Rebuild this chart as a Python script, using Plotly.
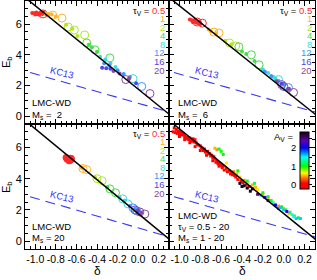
import plotly.graph_objects as go

W, H = 317, 280
ML, MR, MT, MB = 25, 2, 1, 31
PW, PH = W - ML - MR, H - MT - MB

def px(x):
    return (x - ML) / PW

def py(y):
    return (H - MB - y) / PH

XR = [-1.1, 0.3]
YR = [-0.5, 7.5]
x_tickvals = [-1.0, -0.8, -0.6, -0.4, -0.2, 0.0, 0.2]
x_ticktext = ["-1.0", "-0.8", "-0.6", "-0.4", "-0.2", "0.0", "0.2"]
y_tickvals = [0, 2, 4, 6]
y_ticktext = ["0", "2", "4", "6"]

tau_labels = ["0.5", "1", "2", "4", "8", "12", "16", "20"]
tau_colors = ["#FF2A2A", "#FFB428", "#B4E61E", "#46DC46", "#3CDCDC", "#3C96FF", "#5046E6", "#8C46A0"]

# fitted relation (black line) and KC13 relation: E_b = a + b * delta
fit_a, fit_b = 1.77, -5.42
kc13_a, kc13_b = 0.85, -1.9
line_delta = [-1.2, 0.4]

# ---- Ms = 2 ----
m2_dot_d = [[-1.03, -1.01, -0.99, -0.97, -0.95, -0.93, -0.91, -0.89, -1.0, -0.96, -0.92, -0.98],
            [-0.90, -0.87, -0.84, -0.80],
            [-0.70, -0.64, -0.59],
            [-0.48, -0.45, -0.40],
            [-0.37, -0.32, -0.27, -0.22],
            [-0.33, -0.28, -0.20, -0.14, -0.08],
            [-0.35, -0.31, -0.27, -0.02],
            [-0.24, -0.18, -0.09]]
m2_dot_e = [[6.72, 6.70, 6.76, 6.68, 6.72, 6.65, 6.70, 6.62, 6.62, 6.60, 6.75, 6.64],
            [6.68, 6.66, 6.62, 6.50],
            [5.95, 5.70, 5.23],
            [4.65, 4.50, 4.20],
            [3.87, 3.70, 3.45, 3.20],
            [3.45, 3.30, 3.00, 2.75, 2.55],
            [3.16, 3.12, 3.10, 2.15],
            [2.95, 2.78, 2.45]]
m2_circ_d = [[-0.925], [-0.83, -0.74], [-0.68, -0.62, -0.52], [-0.50, -0.42, -0.275],
             [-0.05], [0.035], [], [-0.12, 0.115]]
m2_circ_e = [[6.66], [6.58, 6.39], [5.81, 5.61, 5.29], [4.77, 4.32, 3.80],
             [2.45], [1.94], [], [2.39, 1.48]]

# ---- Ms = 6 ----
m6_dot_d = [[-0.90, -0.88, -0.86, -0.84, -0.82, -0.80, -0.85, -0.81, -0.87],
            [-0.72, -0.70, -0.65],
            [-0.56, -0.50],
            [-0.40, -0.36, -0.28],
            [-0.20, -0.15, -0.10, -0.08],
            [-0.18, -0.12, -0.05, 0.0],
            [-0.02, 0.05],
            [-0.07, 0.04]]
m6_dot_e = [[6.30, 6.25, 6.18, 6.10, 6.05, 6.00, 6.28, 6.15, 6.12],
            [5.65, 5.55, 5.40],
            [4.92, 4.68],
            [4.22, 4.05, 3.60],
            [3.05, 2.82, 2.55, 2.45],
            [2.90, 2.62, 2.30, 2.05],
            [2.12, 1.80],
            [2.28, 1.78]]
m6_circ_d = [[-0.83, -0.78], [-0.67, -0.62], [-0.52, -0.46], [-0.43, -0.31, -0.236],
             [-0.05], [0.046], [0.0], [-0.02, 0.094]]
m6_circ_e = [[6.13, 6.06], [5.48, 5.42], [4.77, 4.58], [4.52, 4.00, 3.35],
             [2.39], [1.87], [1.94], [2.06, 1.55]]

# ---- Ms = 20 ----
m20_dot_d = [[-0.70, -0.68, -0.66, -0.65, -0.67, -0.69], [-0.55], [-0.42], [-0.30],
             [-0.18, -0.13], [-0.08, -0.03], [0.0], [0.03]]
m20_dot_e = [[5.35, 5.30, 5.20, 5.30, 5.15, 5.25], [4.70], [4.10], [3.45],
             [2.80, 2.60], [2.25, 2.05], [1.95], [1.82]]
m20_circ_d = [[-0.66], [-0.537, -0.50], [-0.40, -0.35], [-0.275, -0.22],
              [-0.15, -0.10], [-0.05, -0.013], [-0.03], [0.017, 0.065]]
m20_circ_e = [[5.25], [4.65, 4.58], [4.00, 3.87], [3.35, 3.10],
              [2.71, 2.39], [2.13, 1.94], [2.0], [1.87, 1.74]]

# ---- all models, coloured by A_V ----
all_delta = [-1.06, -1.04, -1.02, -1.0, -0.98, -0.97, -0.95, -0.93, -0.92, -0.9, -0.88, -0.86, -0.85,
             -0.83, -0.8, -0.78, -0.76, -0.75, -0.72, -0.7, -0.68, -0.66, -0.64, -0.62, -0.6, -0.58,
             -0.55, -0.52, -0.5, -0.47, -0.9, -0.85, -0.8, -0.74, -0.68, -0.62, -1.0, -0.95,
             -1.05, -1.03, -1.01, -0.99, -0.96, -0.94, -0.91, -0.89, -0.87, -0.84, -0.82, -0.79,
             -0.77, -0.73, -0.71, -0.69, -0.67, -0.65, -0.63, -0.61, -0.59, -0.57, -0.54, -0.51,
             -0.49, -0.46, -0.44, -0.41, -0.39, -0.36, -0.33,
             -0.66, -0.64, -0.55, -0.45, -0.42, -0.38, -0.30, -0.25, -0.15, -0.05, 0.05,
             -0.48, -0.34, -0.27, -0.2, -0.1, 0.0, 0.1,
             -0.62, -0.58, -0.44, -0.35, -0.28, -0.2, -0.12, -0.02, 0.06, 0.1,
             -0.6, -0.15, 0.02, 0.14, -0.08,
             -0.22, -0.1, 0.0, 0.08, 0.12, -0.05, 0.16, 0.1, -0.03,
             -0.18, -0.08, 0.03, -0.25, -0.15,
             -0.42, -0.38, -0.35, -0.32, -0.3, -0.4]
all_eb = [7.0, 6.95, 6.9, 6.85, 6.8, 6.9, 6.7, 6.65, 6.55, 6.6, 6.4, 6.35, 6.5,
          6.2, 6.1, 5.95, 5.9, 5.7, 5.6, 5.45, 5.35, 5.25, 5.1, 5.0, 4.85, 4.8,
          4.65, 4.5, 4.35, 4.2, 6.3, 6.05, 5.8, 5.5, 5.15, 4.8, 6.7, 6.5,
          7.25, 7.15, 7.05, 7.0, 6.85, 6.6, 6.5, 6.45, 6.55, 6.3, 6.15, 6.0,
          5.8, 5.75, 5.6, 5.5, 5.4, 5.05, 4.95, 4.9, 4.7, 4.55, 4.45, 4.3,
          4.25, 4.1, 3.95, 3.85, 3.75, 3.6, 3.5,
          5.95, 5.85, 5.0, 4.3, 4.1, 3.9, 3.6, 3.3, 2.75, 2.25, 1.75,
          4.45, 3.75, 3.45, 3.0, 2.5, 2.1, 1.6,
          5.9, 5.55, 4.5, 3.85, 3.7, 3.1, 2.6, 2.2, 1.85, 1.6,
          5.75, 2.85, 2.0, 1.5, 2.35,
          2.95, 2.4, 2.0, 1.7, 1.45, 2.1, 1.45, 1.55, 2.15,
          2.8, 2.3, 1.9, 3.0, 2.6,
          3.7, 3.55, 3.4, 3.2, 3.35, 3.5]
all_av = [0.05, 0.1, 0.05, 0.1, 0.05, 0.1, 0.05, 0.15, 0.05, 0.1, 0.05, 0.1, 0.15,
          0.05, 0.1, 0.05, 0.1, 0.05, 0.1, 0.05, 0.1, 0.15, 0.05, 0.1, 0.05, 0.1,
          0.15, 0.05, 0.1, 0.05, 0.05, 0.1, 0.05, 0.1, 0.05, 0.1, 0.05, 0.1,
          0.05, 0.1, 0.05, 0.1, 0.05, 0.1, 0.05, 0.1, 0.05, 0.1, 0.05, 0.1,
          0.05, 0.1, 0.05, 0.1, 0.05, 0.1, 0.05, 0.1, 0.05, 0.1, 0.05, 0.1,
          0.05, 0.1, 0.05, 0.1, 0.05, 0.1, 0.05,
          0.5, 0.45, 0.6, 0.5, 0.55, 0.45, 0.5, 0.6, 0.5, 0.45, 0.55,
          0.4, 0.6, 0.5, 0.45, 0.55, 0.5, 0.45,
          1.1, 1.0, 1.0, 1.1, 1.2, 1.0, 1.1, 1.0, 1.2, 1.1,
          1.0, 1.1, 1.0, 1.2, 1.0,
          1.6, 1.5, 1.6, 1.5, 1.6, 1.7, 1.6, 1.5, 1.6,
          2.1, 2.0, 2.2, 2.5, 2.4,
          2.85, 2.8, 2.85, 2.8, 2.85, 2.8]
av_range = [-0.22, 2.86]
av_colorscale = [[0.0, "#FF0000"], [0.10, "#FF0000"], [0.20, "#FF8000"], [0.28, "#FFFF00"],
                 [0.40, "#00FF00"], [0.56, "#00FFFF"], [0.72, "#0000FF"], [0.85, "#6000B0"],
                 [1.0, "#100010"]]
av_ticks = [0, 0.5, 1, 1.5, 2, 2.5]
av_labels = ["0", "1", "2"]

FONT = "Liberation Sans, Arial, Helvetica, sans-serif"
fig = go.Figure()

panels = [("x", "y", m2_dot_d, m2_dot_e, m2_circ_d, m2_circ_e),
          ("x2", "y2", m6_dot_d, m6_dot_e, m6_circ_d, m6_circ_e),
          ("x3", "y3", m20_dot_d, m20_dot_e, m20_circ_d, m20_circ_e)]

for xa, ya, dd, de, cd, ce in panels:
    for i, col in enumerate(tau_colors):
        sz = 4
        if xa == "x3" and i == 0:
            sz = 7
        fig.add_trace(go.Scatter(x=dd[i], y=de[i], mode="markers", xaxis=xa, yaxis=ya,
                                 marker=dict(color=col, size=sz, symbol="circle", line=dict(width=0)),
                                 showlegend=False, hoverinfo="skip"))
        fig.add_trace(go.Scatter(x=cd[i], y=ce[i], mode="markers", xaxis=xa, yaxis=ya,
                                 marker=dict(color=col, size=8, symbol="circle-open", line=dict(width=1)),
                                 showlegend=False, hoverinfo="skip"))

fig.add_trace(go.Scatter(x=all_delta, y=all_eb, mode="markers", xaxis="x4", yaxis="y4",
                         marker=dict(color=all_av, colorscale=av_colorscale, cmin=av_range[0],
                                     cmax=av_range[1], size=3, symbol="square", line=dict(width=0),
                                     colorbar=dict(x=px(300), xanchor="left", y=py(160.5), yanchor="middle",
                                                   lenmode="pixels", len=57, thicknessmode="pixels",
                                                   thickness=9, outlinewidth=1, outlinecolor="black",
                                                   xpad=0, ypad=0, ticks="outside", ticklen=3,
                                                   tickcolor="black", tickvals=av_ticks,
                                                   showticklabels=False)),
                         showlegend=False, hoverinfo="skip"))

for k in ["", "2", "3", "4"]:
    fit_y = [fit_a + fit_b * d for d in line_delta]
    kc_y = [kc13_a + kc13_b * d for d in line_delta]
    fig.add_trace(go.Scatter(x=line_delta, y=kc_y, mode="lines", xaxis="x" + k, yaxis="y" + k,
                             line=dict(color="#3535F5", width=1.1, dash="10px,6px"),
                             showlegend=False, hoverinfo="skip"))
    fig.add_trace(go.Scatter(x=line_delta, y=fit_y, mode="lines", xaxis="x" + k, yaxis="y" + k,
                             line=dict(color="black", width=1.5), showlegend=False, hoverinfo="skip"))

xsplit = 144 / PW
ysplit = py(124)

def xax(domain, anchor, show):
    return dict(domain=domain, anchor=anchor, range=XR, tickvals=x_tickvals, ticktext=x_ticktext,
                showticklabels=show, ticks="inside", ticklen=5, tickwidth=1, tickcolor="black",
                mirror="allticks", showline=True, linecolor="black", linewidth=1, showgrid=False,
                zeroline=False, tickangle=0, automargin=False,
                tickfont=dict(size=10.5, color="black", family=FONT),
                minor=dict(ticks="inside", dtick=0.05, tick0=0, ticklen=3, tickcolor="black", showgrid=False))

def yax(domain, anchor, show):
    return dict(domain=domain, anchor=anchor, range=YR, tickvals=y_tickvals, ticktext=y_ticktext,
                showticklabels=show, ticks="inside", ticklen=5, tickwidth=1, tickcolor="black",
                mirror="allticks", showline=True, linecolor="black", linewidth=1, showgrid=False,
                zeroline=False, automargin=False,
                tickfont=dict(size=11, color="black", family=FONT),
                minor=dict(ticks="inside", dtick=0.5, tick0=0, ticklen=3, tickcolor="black", showgrid=False))

ann = []

def text(x, y, t, xanchor="left", color="black", size=10, angle=0, xref="paper", yref="paper"):
    ann.append(dict(x=x, y=y, xref=xref, yref=yref, text=t, showarrow=False, xanchor=xanchor,
                    yanchor="middle", textangle=angle, borderpad=0,
                    font=dict(size=size, color=color, family=FONT)))

legend_offsets = [9.5, 17.5, 26, 34.6, 43.2, 51.8, 60.4, 69]
for (right, top, xr, yr, ms) in [(166, 1, "x", "y", "2"), (313, 1, "x2", "y2", "6"), (166, 124, "x3", "y3", "20")]:
    for i, lab in enumerate(tau_labels):
        if i == 0:
            t = "τ<sub>V</sub> = <span style='color:%s'>%s</span>" % (tau_colors[0], lab)
            text(px(right), py(top + legend_offsets[i]), t, xanchor="right", size=9.5)
        else:
            text(px(right), py(top + legend_offsets[i]), lab, xanchor="right", color=tau_colors[i], size=9.5)
    left = 31 if xr != "x2" else 177
    text(px(left), py(top + 102), "LMC-WD", size=9.5)
    text(px(left), py(top + 114), "M<sub>s</sub> = " + ("&nbsp;" if len(ms) == 1 else "") + ms, size=9.5)

for xr, yr in [("x", "y"), ("x2", "y2"), ("x3", "y3"), ("x4", "y4")]:
    text(-0.74, 2.85, "KC13", xanchor="center", color="#3535F5", size=9.5, angle=14, xref=xr, yref=yr)

text(px(177), py(215), "LMC-WD", size=9.5)
text(px(177), py(226.5), "τ<sub>V</sub> = 0.5 - 20", size=9.5)
text(px(177), py(238), "M<sub>s</sub> = 1 - 20", size=9.5)
text(px(283), py(137), "A<sub>V</sub> =", xanchor="center", size=9.5)
for v, lab in zip([0, 1, 2], av_labels):
    ypix = 189 - (v - av_range[0]) / (av_range[1] - av_range[0]) * 57
    text(px(297), py(ypix), lab, xanchor="right", size=9.5)

text(px(7), py(62), "E<sub>b</sub>", xanchor="center", size=11, angle=-90)
text(px(7), py(187), "E<sub>b</sub>", xanchor="center", size=11, angle=-90)
text(px(97), py(271), "δ", xanchor="center", size=12)
text(px(242), py(271), "δ", xanchor="center", size=12)

fig.update_layout(
    width=W, height=H, margin=dict(l=ML, r=MR, t=MT, b=MB),
    paper_bgcolor="white", plot_bgcolor="white",
    font=dict(family=FONT, size=10, color="black"),
    xaxis=xax([0, xsplit], "y", False), yaxis=yax([ysplit, 1], "x", True),
    xaxis2=xax([xsplit, 1], "y2", False), yaxis2=yax([ysplit, 1], "x2", False),
    xaxis3=xax([0, xsplit], "y3", True), yaxis3=yax([0, ysplit], "x3", True),
    xaxis4=xax([xsplit, 1], "y4", True), yaxis4=yax([0, ysplit], "x4", False),
    annotations=ann,
)

fig.write_html("out.html", config={"displayModeBar": False},
               post_script="document.body.style.margin='0';document.body.style.padding='0';")
